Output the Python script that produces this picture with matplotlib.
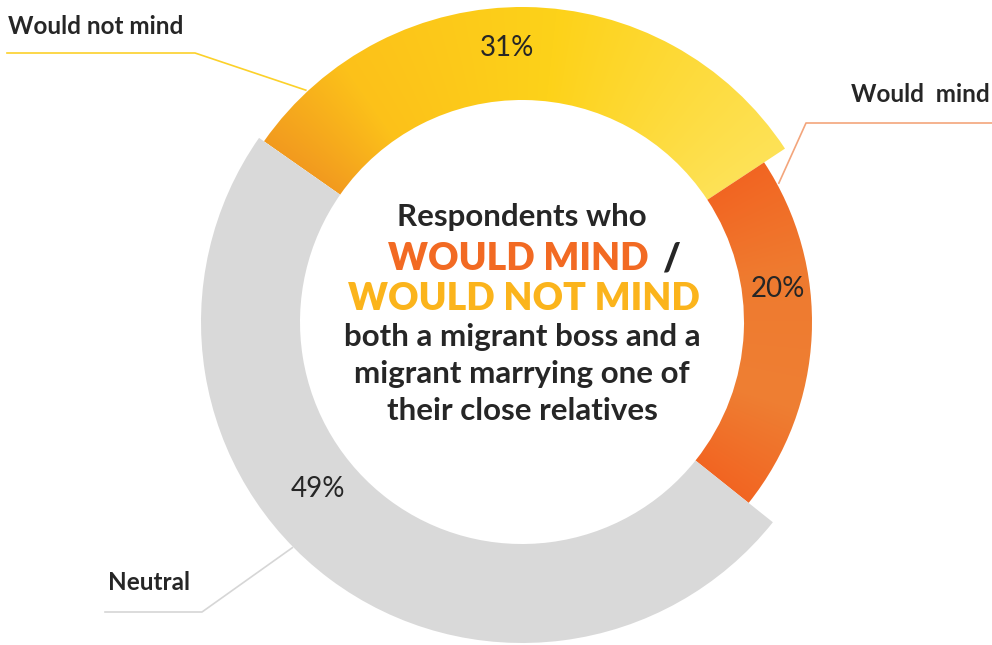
import numpy as np
import matplotlib
matplotlib.use("Agg")
import matplotlib.pyplot as plt
from matplotlib.patches import Wedge
from matplotlib.colors import to_rgb

W, H = 992, 645

categories = ["Would not mind", "Would mind", "Neutral"]
shares = [31, 20, 49]
pct_labels = ["31%", "20%", "49%"]

# ring geometry (pixels, y up)
cx, cy = 522, 323
r_in = 222
r_out = [315, 290, 321]
start_angle = 145

fig = plt.figure(figsize=(W / 100, H / 100), dpi=100)
ax = fig.add_axes([0, 0, 1, 1])
ax.set_xlim(0, W)
ax.set_ylim(0, H)
ax.set_aspect("equal")
ax.axis("off")

# angular gradients for each segment: list of (position, colour)
grads = [
    [(0.0, "#f29a1f"), (0.18, "#fcc11a"), (0.55, "#fdd219"), (1.0, "#fde257")],
    [(0.0, "#f26522"), (0.3, "#ef7a2f"), (0.7, "#ee7f33"), (1.0, "#f26522")],
    None,
]
flat = [None, None, "#d9d9d9"]

yy, xx = np.mgrid[0:H, 0:W] + 0.5
theta = np.degrees(np.arctan2(yy - cy, xx - cx))

a = start_angle
total = sum(shares)
edges = []
for i, v in enumerate(shares):
    span = 360 * v / total
    a1, a2 = a - span, a
    edges.append((a1, a2))
    w = Wedge((cx, cy), r_out[i], a1, a2, width=r_out[i] - r_in,
              facecolor=flat[i] or "none", edgecolor="none")
    ax.add_patch(w)
    if grads[i] is not None:
        # fraction along the arc, clockwise from the segment start
        t = ((a2 - theta) % 360) / span
        t = np.clip(t, 0, 1)
        pos = [p for p, _ in grads[i]]
        cols = np.array([to_rgb(c) for _, c in grads[i]])
        img = np.stack([np.interp(t, pos, cols[:, k]) for k in range(3)], axis=-1)
        im = ax.imshow(img, extent=(0, W, 0, H), origin="lower",
                       interpolation="bilinear", zorder=1)
        im.set_clip_path(w)
    a = a1

font = "Lato"
dark = "#262626"

# percentage labels inside the ring
pct_pos = [(507, 48), (778, 289), (318, 489)]
for lab, (x, y) in zip(pct_labels, pct_pos):
    ax.text(x, H - y, lab, ha="center", va="center", fontsize=20,
            family=font, color=dark, zorder=3)


def ring_point(ang, r):
    return cx + r * np.cos(np.radians(ang)), cy + r * np.sin(np.radians(ang))


# category labels with leader lines ending on the ring
ax.text(8, H - 27, categories[0], ha="left", va="center", fontsize=17.5,
        family=font, weight="bold", color=dark)
ex, ey = ring_point(edges[0][1] - 12, r_out[0] + 2)
ax.plot([7, 195, ex], [H - 53, H - 53, ey], color="#fcd12a", lw=1.2)

ax.text(990, H - 95, "Would  mind", ha="right", va="center", fontsize=17.5,
        family=font, weight="bold", color=dark)
ex, ey = ring_point(edges[1][1] - 5, r_out[1] + 2)
ax.plot([992, 806, ex], [H - 123, H - 123, ey], color="#f3a57c", lw=1.2)

ax.text(108, H - 582, categories[2], ha="left", va="center", fontsize=17.5,
        family=font, weight="bold", color=dark)
ex, ey = ring_point(224.5, r_out[2] + 1)
ax.plot([105, 202, ex], [H - 612, H - 612, ey], color="#d6d6d6", lw=1.2)

# centre caption
ax.text(cx, H - 217, "Respondents who", ha="center", va="center",
        fontsize=22.5, family=font, weight="bold", color=dark)
ax.text(649, H - 259, "WOULD MIND", ha="right", va="center",
        fontsize=27, family=font, weight="heavy", color="#f26a23")
ax.text(662, H - 259, "/", ha="left", va="center",
        fontsize=27, family=font, weight="heavy", color=dark)
ax.text(cx + 2, H - 299, "WOULD NOT MIND", ha="center", va="center",
        fontsize=27, family=font, weight="heavy", color="#fbb41c")
for k, line in enumerate(["both a migrant boss and a",
                          "migrant marrying one of",
                          "their close relatives"]):
    ax.text(cx, H - (337 + 37 * k), line, ha="center", va="center",
            fontsize=22.5, family=font, weight="bold", color=dark)

fig.savefig("out.png", dpi=100)
